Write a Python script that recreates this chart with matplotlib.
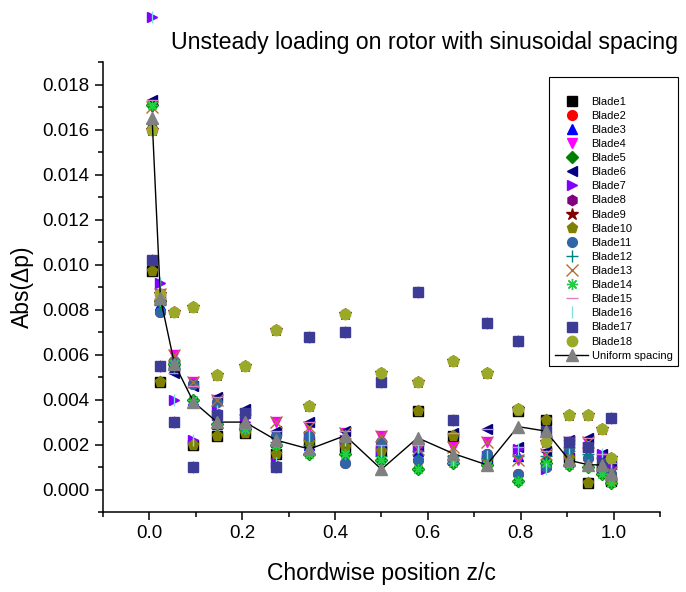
import numpy as np
import matplotlib.pyplot as plt

plt.rcParams['font.family'] = ['Liberation Sans', 'DejaVu Sans']

# chordwise stations (sinusoidal spacing)
z_c = [0.006, 0.024, 0.054, 0.095, 0.146, 0.206, 0.273, 0.345, 0.422, 0.500,
       0.578, 0.655, 0.727, 0.794, 0.854, 0.905, 0.946, 0.976, 0.994]

# blades k and k+9 sit on top of each other in the plot
pair1 = [0.0097, 0.0048, 0.0056, 0.0020, 0.0024, 0.0025, 0.0016, 0.0021, 0.0019, 0.0017,
         0.0035, 0.0024, 0.0013, 0.0035, 0.0031, 0.0014, 0.0003, 0.0009, 0.0004]
pair2 = [0.0160, 0.0079, 0.0057, 0.0047, 0.0039, 0.0028, 0.0024, 0.0024, 0.0012, 0.0021,
         0.0013, 0.0013, 0.0016, 0.0007, 0.0010, 0.0018, 0.0014, 0.0009, 0.0007]
pair3 = [0.0163, 0.0082, 0.0054, 0.0040, 0.0029, 0.0029, 0.0021, 0.0020, 0.0021, 0.0015,
         0.0017, 0.0015, 0.0014, 0.0015, 0.0015, 0.0017, 0.0016, 0.0011, 0.0009]
pair4 = [0.0170, 0.0087, 0.0060, 0.0048, 0.0040, 0.0031, 0.0030, 0.0028, 0.0025, 0.0024,
         0.0018, 0.0019, 0.0021, 0.0013, 0.0016, 0.0021, 0.0021, 0.0012, 0.0008]
pair5 = [0.0171, 0.0084, 0.0056, 0.0040, 0.0029, 0.0027, 0.0020, 0.0016, 0.0016, 0.0013,
         0.0009, 0.0012, 0.0011, 0.0004, 0.0012, 0.0011, 0.0010, 0.0007, 0.0003]
pair6 = [0.0173, 0.0085, 0.0052, 0.0046, 0.0041, 0.0036, 0.0026, 0.0030, 0.0026, 0.0020,
         0.0020, 0.0025, 0.0027, 0.0019, 0.0017, 0.0022, 0.0023, 0.0016, 0.0012]
pair7 = [0.0210, 0.0092, 0.0040, 0.0022, 0.0035, 0.0030, 0.0012, 0.0024, 0.0022, 0.0017,
         0.0019, 0.0013, 0.0015, 0.0018, 0.0009, 0.0016, 0.0019, 0.0016, 0.0010]
pair8 = [0.0102, 0.0055, 0.0030, 0.0010, 0.0033, 0.0034, 0.0010, 0.0068, 0.0070, 0.0048,
         0.0088, 0.0031, 0.0074, 0.0066, 0.0026, 0.0021, 0.0019, 0.0012, 0.0032]
pair9 = [0.0160, 0.0087, 0.0079, 0.0081, 0.0051, 0.0055, 0.0071, 0.0037, 0.0078, 0.0052,
         0.0048, 0.0057, 0.0052, 0.0036, 0.0021, 0.0033, 0.0033, 0.0027, 0.0014]
uniform = [0.0165, 0.0085, 0.0056, 0.0039, 0.0030, 0.0030, 0.0022, 0.0018, 0.0024, 0.0009,
           0.0023, 0.0016, 0.0011, 0.0028, 0.0026, 0.0013, 0.0011, 0.0011, 0.0007]

blades = [pair1, pair2, pair3, pair4, pair5, pair6, pair7, pair8, pair9] * 2
labels = ['Blade%d' % (i + 1) for i in range(18)]

# marker, colour, size (Origin-like symbols)
styles = [
    ('s', 'black', 6.5),
    ('o', '#FF0000', 7),
    ('^', '#0000FF', 7.5),
    ('v', '#FF00FF', 7.5),
    ('D', '#008000', 6),
    ('<', '#000080', 7.5),
    ('>', '#8000FF', 7.5),
    ('h', '#800080', 7.5),
    ('*', '#800000', 9),
    ('p', '#808000', 8),
    ('o', '#2E66A8', 7),
    ('+', '#008080', 8),
    ('x', '#B07030', 8),
    ((8, 2, 0), '#20D040', 8),
    ('_', '#E080C0', 8),
    ('|', '#80E0E0', 8),
    ('s', '#3C3C96', 7),
    ('o', '#9AAA28', 7.5),
]

fig = plt.figure(figsize=(6.86, 5.92), dpi=100)
ax = fig.add_axes([0.150, 0.135, 0.812, 0.760])

for vals, lab, (m, c, s) in zip(blades, labels, styles):
    ax.plot(z_c, vals, linestyle='none', marker=m, color=c, markersize=s,
            markeredgewidth=1.0, label=lab, clip_on=False)

ax.plot(z_c, uniform, color='black', lw=1.0, marker='^', markersize=9,
        markerfacecolor='#808080', markeredgecolor='#808080', label='Uniform spacing')

ax.set_xlim(-0.1, 1.1)
ax.set_ylim(-0.001, 0.019)
ax.set_xticks(np.arange(0.0, 1.01, 0.2))
ax.set_xticks(np.arange(-0.1, 1.11, 0.1), minor=True)
ax.set_yticks(np.arange(0.0, 0.0181, 0.002))
ax.set_yticks(np.arange(-0.001, 0.0191, 0.001), minor=True)
ax.set_xticklabels(['0.0', '0.2', '0.4', '0.6', '0.8', '1.0'])
ax.set_yticklabels(['%.3f' % v for v in np.arange(0.0, 0.0181, 0.002)])

for side in ['top', 'right']:
    ax.spines[side].set_visible(False)
for side in ['left', 'bottom']:
    ax.spines[side].set_linewidth(1.1)
ax.tick_params(which='major', direction='out', length=6, width=1.1, labelsize=13.5)
ax.tick_params(which='minor', direction='out', length=3.5, width=1.1)

ax.set_xlabel('Chordwise position z/c', fontsize=16.5, labelpad=14)
ax.set_ylabel('Abs(\u0394p)', fontsize=16.5, labelpad=6)

fig.text(171 / 686, 1 - 42 / 592, 'Unsteady loading on rotor with sinusoidal spacing',
         fontsize=16.7, ha='left', va='center')

leg = ax.legend(loc='upper right', bbox_to_anchor=(678 / 686, 1 - 77 / 592),
                bbox_transform=fig.transFigure, fontsize=8, title=' ', title_fontsize=8,
                frameon=True, fancybox=False, edgecolor='black', framealpha=1,
                borderpad=0.5, labelspacing=0.37, handlelength=3.0, handletextpad=0.3,
                borderaxespad=0)
leg.get_frame().set_linewidth(0.8)

fig.savefig('out.png', dpi=100)
